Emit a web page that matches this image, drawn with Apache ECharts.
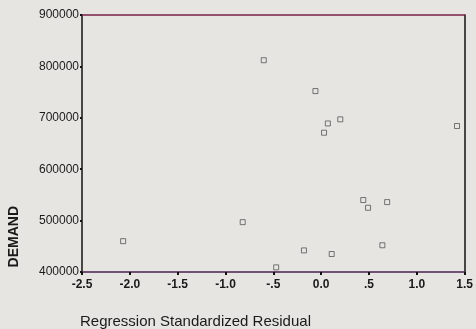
<!DOCTYPE html>
<html>
<head>
<meta charset="utf-8">
<script src="https://cdn.jsdelivr.net/npm/echarts@6/dist/echarts.min.js"></script>
<style>
html,body{margin:0;padding:0;background:#e6e5e1;}
#c{width:476px;height:329px;}
</style>
</head>
<body>
<div id="c"></div>
<script>
var residuals = [-0.60, -0.06, 0.07, 0.20, 0.03, 1.42, 0.44, 0.49, 0.69, 0.64, -0.18, 0.11, -0.47, -0.82, -2.07];
var demand = [812000, 752000, 689000, 697000, 671000, 684000, 540000, 525000, 536000, 452000, 442000, 435000, 409000, 497000, 460000];
var xTickLabels = {"-2.5":"-2.5","-2":"-2.0","-1.5":"-1.5","-1":"-1.0","-0.5":"-.5","0":"0.0","0.5":".5","1":"1.0","1.5":"1.5"};
var yTickLabels = ["400000","500000","600000","700000","800000","900000"];

var pts = residuals.map(function(r,i){return [r, demand[i]];});
var chart = echarts.init(document.getElementById('c'), null, {renderer:'canvas'});
var font = '"Liberation Sans", Arial, sans-serif';
chart.setOption({
  backgroundColor:'#e6e5e1',
  animation:false,
  grid:{left:82, right:6, top:15, bottom:57},
  xAxis:[{
    type:'value', min:-2.5, max:1.5, interval:0.5, position:'bottom',
    axisLine:{show:true, onZero:false, lineStyle:{color:'#4a2050', width:1.5}},
    axisTick:{show:true, length:3, lineStyle:{color:'#111', width:2}},
    splitLine:{show:false},
    axisLabel:{color:'#1a1a1a', fontFamily:font, fontSize:12, fontWeight:'bold', margin:7,
      formatter:function(v){var k=String(Math.round(v*10)/10); return xTickLabels[k]!==undefined?xTickLabels[k]:k;}}
  },{
    type:'value', min:-2.5, max:1.5, position:'top',
    axisLine:{show:true, onZero:false, lineStyle:{color:'#7a1f48', width:1.5}},
    axisTick:{show:false}, axisLabel:{show:false}, splitLine:{show:false}
  }],
  yAxis:[{
    type:'value', min:400000, max:900000, interval:100000, position:'left',
    axisLine:{show:true, onZero:false, lineStyle:{color:'#111', width:1.5}},
    axisTick:{show:true, length:2, lineStyle:{color:'#111', width:2}},
    splitLine:{show:false},
    axisLabel:{color:'#1a1a1a', fontFamily:font, fontSize:12, margin:3,
      formatter:function(v){var i=Math.round((v-400000)/100000); return yTickLabels[i]||String(v);}}
  },{
    type:'value', min:400000, max:900000, position:'right',
    axisLine:{show:true, onZero:false, lineStyle:{color:'#111', width:1.5}},
    axisTick:{show:false}, axisLabel:{show:false}, splitLine:{show:false}
  }],
  graphic:[
    {type:'text', left:7, top:206, rotation:Math.PI/2, style:{text:'DEMAND', fill:'#1a1a1a', font:'bold 14px '+font}},
    {type:'text', left:80, top:314, style:{text:'Regression Standardized Residual', fill:'#1a1a1a', font:'15px '+font}}
  ],
  series:[{
    type:'scatter', data:pts, symbol:'rect', symbolSize:5,
    itemStyle:{color:'rgba(0,0,0,0)', borderColor:'#555', borderWidth:1}
  }]
});
</script>
</body>
</html>
